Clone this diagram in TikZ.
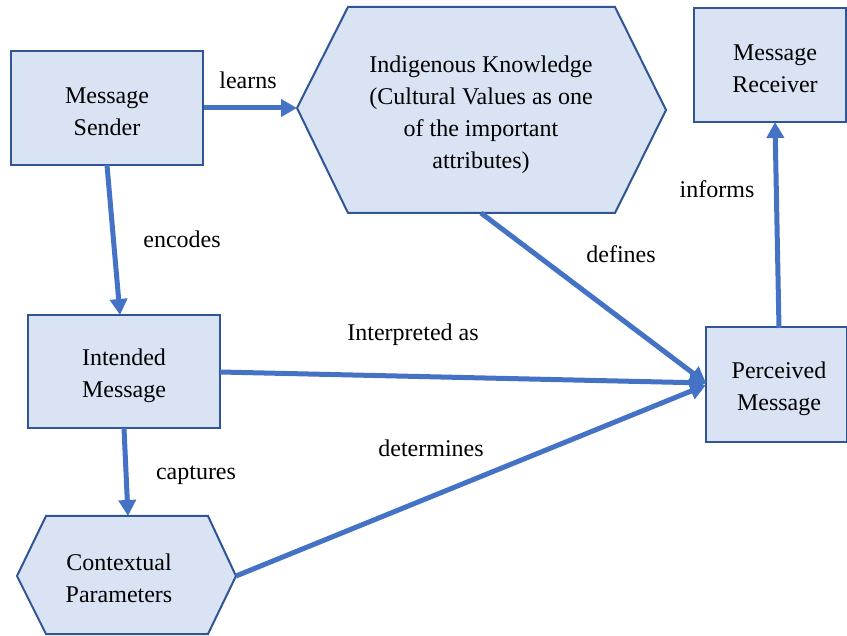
\documentclass[tikz,border=0pt]{standalone}
\usepackage{fontspec}
\setmainfont{Liberation Serif}
\usetikzlibrary{arrows.meta}
\definecolor{boxfill}{HTML}{DAE3F3}
\definecolor{boxline}{HTML}{2F5597}
\definecolor{arrowc}{HTML}{4472C4}
\begin{document}
\begin{tikzpicture}[x=1pt,y=-1pt,
 box/.style={draw=boxline,fill=boxfill,line width=2pt,inner sep=0pt},
 hex/.style={draw=boxline,fill=boxfill,line width=2pt,line join=miter},
 txt/.style={align=center,font=\fontsize{24}{32}\selectfont},
 lbl/.style={font=\fontsize{24}{32}\selectfont},
 conn/.style={draw=arrowc,line width=5pt,-{Triangle[length=16pt,width=17pt]}}]
\useasboundingbox (0,0) rectangle (847,636);
% rectangles
\node[box,minimum width=192pt,minimum height=114pt] (ms) at (107,108) {};
\node[txt] (mst) at (107,112) {Message\\Sender};
\node[box,minimum width=192pt,minimum height=113pt] (im) at (124,371.5) {};
\node[txt] (imt) at (124,376) {Intended\\Message};
\node[box,minimum width=152pt,minimum height=114pt] (mr) at (770,65) {};
\node[txt] (mrt) at (775,69) {Message\\Receiver};
\node[box,minimum width=141pt,minimum height=115pt] (pm) at (776.5,385) {};
\node[txt] (pmt) at (779,389) {Perceived\\Message};
% hexagons
\draw[hex] (297,108) -- (348,7) -- (615,7) -- (666,110) -- (615,213) -- (348,213) -- cycle;
\node[txt] (ik) at (481,115) {Indigenous Knowledge\\(Cultural Values as one\\of the important\\attributes)};
\coordinate (ikL) at (297,108);
\coordinate (ikB) at (481,213);
\draw[hex] (17,576) -- (46,516) -- (208,516) -- (236,576) -- (208,634) -- (46,634) -- cycle;
\node[txt] (cp) at (119,578) {Contextual\\Parameters};
\coordinate (cpT) at (128,516);
\coordinate (cpR) at (236,576);
% connector endpoints
\coordinate (msS) at (107,165);
\coordinate (imN) at (120,315);
\coordinate (imS) at (124,428);
\coordinate (imE) at (220,372);
\coordinate (pmW1) at (706,383);
\coordinate (pmW2) at (706,385);
\coordinate (pmN) at (779,328);
\coordinate (mrS) at (775,122);
% connectors
\draw[conn] (ms.east |- 0,108) -- (ikL);
\draw[conn] (msS) -- (imN);
\draw[conn] (imS) -- (cpT);
\draw[conn] (imE) -- (pmW1);
\draw[conn] (ikB) -- (pmW1);
\draw[conn] (cpR) -- (pmW2);
\draw[conn] (pmN) -- (mrS);
% labels
\node[lbl] (l1) at (248,80) {learns};
\node[lbl] (l2) at (182,239) {encodes};
\node[lbl] (l3) at (196,475) {captures};
\node[lbl] (l4) at (413,335) {Interpreted as};
\node[lbl] (l5) at (621,254) {defines};
\node[lbl] (l6) at (431,448) {determines};
\node[lbl] (l7) at (717,189) {informs};
\end{tikzpicture}
\end{document}
